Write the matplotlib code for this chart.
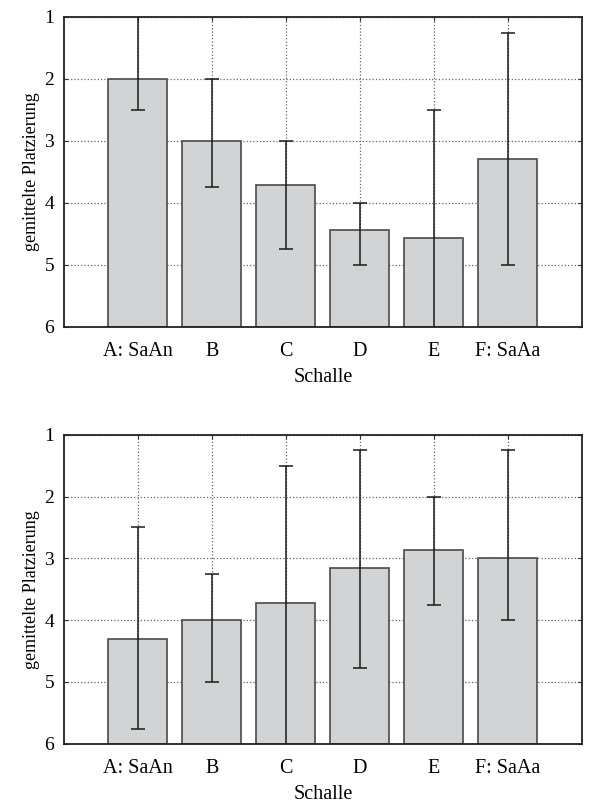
import matplotlib
matplotlib.use('Agg')
import matplotlib.pyplot as plt
import numpy as np

plt.rcParams['font.family'] = ['Liberation Serif', 'DejaVu Serif']

categories = ['A: SaAn', 'B', 'C', 'D', 'E', 'F: SaAa']

# mean placement (1 = best) and error bar ends
top_means = [2.0, 3.0, 3.71, 4.43, 4.57, 3.29]
top_err_hi = [0.5, 2.0, 3.0, 4.0, 2.5, 1.26]
top_err_lo = [2.5, 3.75, 4.75, 5.0, 6.5, 5.0]

bottom_means = [4.30, 4.0, 3.72, 3.15, 2.86, 3.0]
bottom_err_hi = [2.5, 3.26, 1.5, 1.25, 2.0, 1.25]
bottom_err_lo = [5.76, 5.0, 6.5, 4.77, 3.76, 4.0]


def draw_panel(ax, means, err_hi, err_lo):
    x = np.arange(1, len(categories) + 1)
    means = np.array(means)
    ax.bar(x, 6 - means, bottom=means, width=0.8, color='#d2d3d5',
           edgecolor='#4a4a4a', linewidth=1.2, zorder=2)
    yerr = [means - np.array(err_hi), np.array(err_lo) - means]
    ax.errorbar(x, means, yerr=yerr, fmt='none', ecolor='#1a1a1a',
                elinewidth=1.1, capsize=5, capthick=1.1, zorder=3)
    ax.set_xlim(0, 7)
    ax.set_ylim(6, 1)
    ax.set_xticks(x)
    ax.set_xticklabels(categories, fontsize=14.5)
    ax.set_yticks([1, 2, 3, 4, 5, 6])
    ax.set_yticklabels(['1', '2', '3', '4', '5', '6'], fontsize=14)
    ax.grid(True, linestyle=':', color='#666666', linewidth=0.9, zorder=0)
    ax.set_axisbelow(True)
    ax.tick_params(direction='in', length=3, top=True, right=True,
                   color='#333333')
    ax.tick_params(axis='x', pad=11)
    ax.tick_params(axis='y', pad=7)
    for s in ax.spines.values():
        s.set_linewidth(1.3)
        s.set_color('#222222')
    ax.set_xlabel('Schalle', fontsize=14.5, labelpad=5)
    ax.set_ylabel('gemittelte Platzierung', fontsize=13, labelpad=3)


fig = plt.figure(figsize=(6.08, 8.05), dpi=100)
ax1 = fig.add_axes([0.105, 0.594, 0.852, 0.385])
ax2 = fig.add_axes([0.105, 0.076, 0.852, 0.384])

draw_panel(ax1, top_means, top_err_hi, top_err_lo)
draw_panel(ax2, bottom_means, bottom_err_hi, bottom_err_lo)

fig.savefig('out.png', dpi=100)
